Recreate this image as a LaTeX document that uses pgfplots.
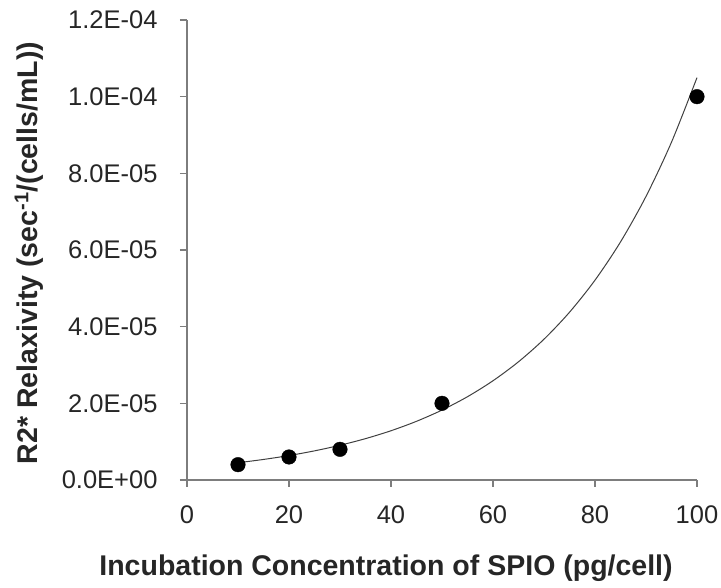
\documentclass[border=0pt]{standalone}
\usepackage{fontspec}
\setmainfont{Liberation Sans}
\usepackage{pgfplots}
\pgfplotsset{compat=1.18}
\definecolor{axgray}{RGB}{125,125,125}
\begin{document}
\fontsize{25}{30}\selectfont
\begin{tikzpicture}
\begin{axis}[
  scale only axis, width=510pt, height=460pt,
  xmin=0, xmax=100, ymin=0, ymax=1.2e-4,
  axis lines*=left,
  axis line style={axgray, line width=1.5pt},
  tick style={axgray, line width=1.2pt},
  tick align=outside,
  major tick length=7pt,
  xtick={0,20,40,60,80,100},
  xticklabels={0,20,40,60,80,100},
  ytick={0,2e-5,4e-5,6e-5,8e-5,1e-4,1.2e-4},
  yticklabels={0.0E+00,2.0E-05,4.0E-05,6.0E-05,8.0E-05,1.0E-04,1.2E-04},
  scaled y ticks=false,
  /pgf/number format/assume math mode=true,
  ticklabel style={font=\fontsize{25.5}{30}\selectfont, text=black!85},
  xticklabel style={yshift=-10pt},
  yticklabel style={xshift=-14pt},
  xlabel={\textbf{Incubation Concentration of SPIO (pg/cell)}},
  ylabel={\textbf{R2* Relaxivity (sec\textsuperscript{-1}/(cells/mL))}},
  every axis x label/.style={at={(axis description cs:0.5,0)}, anchor=center, xshift=-56pt, yshift=-88pt, font=\fontsize{28.5}{34}\selectfont, text=black!85},
  every axis y label/.style={at={(axis description cs:0,0.5)}, anchor=center, xshift=-158pt, yshift=-3pt, rotate=90, font=\fontsize{28.5}{34}\selectfont, text=black!85},
  clip=false,
]
\addplot[no marks, color=black!75, line width=1pt, smooth] coordinates {
(10,4.50e-6) (15,5.36e-6) (20,6.38e-6) (25,7.60e-6) (30,9.06e-6)
(35,1.079e-5) (40,1.285e-5) (45,1.531e-5) (50,1.824e-5) (55,2.173e-5)
(60,2.589e-5) (65,3.084e-5) (70,3.673e-5) (75,4.376e-5) (80,5.213e-5)
(85,6.210e-5) (90,7.398e-5) (95,8.813e-5) (100,1.0497e-4)
};
\addplot[only marks, mark=*, mark size=7.3pt, black] coordinates {
(10,4e-6) (20,6e-6) (30,8e-6) (50,2e-5) (100,1e-4)
};
\end{axis}
\pgfresetboundingbox
\path ([shift={(-187pt,-108pt)}]current axis.south west) rectangle ++(721pt,588pt);
\end{tikzpicture}
\end{document}
